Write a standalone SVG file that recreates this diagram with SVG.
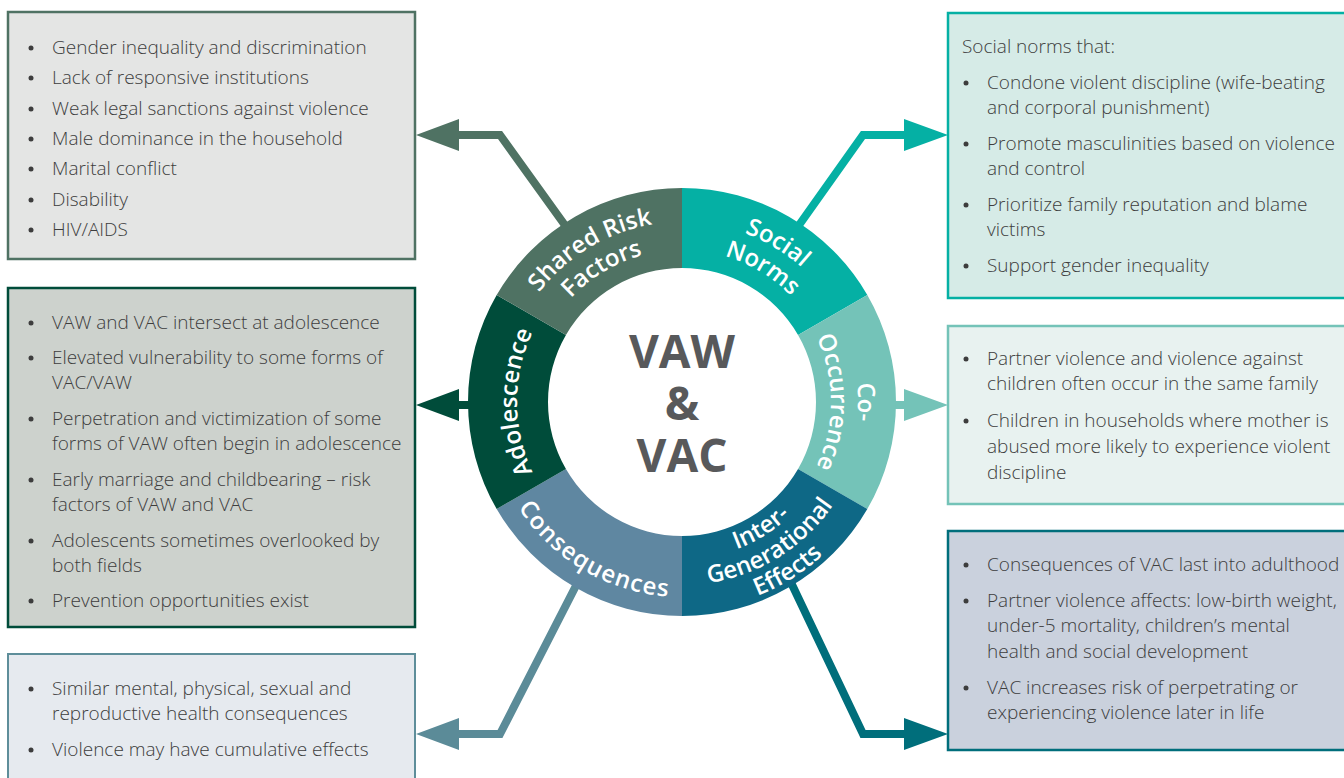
<svg xmlns="http://www.w3.org/2000/svg" xmlns:xlink="http://www.w3.org/1999/xlink" width="1344" height="778" viewBox="0 0 1344 778">
<style>
.t{font-family:"Open Sans","Liberation Sans",sans-serif;font-size:19px;fill:#3d3d3d;font-weight:300}
.lbl{font-family:"Open Sans","Liberation Sans",sans-serif;font-size:24px;fill:#ffffff;font-weight:600}
.ctr{font-family:"Open Sans","Liberation Sans",sans-serif;font-size:46px;fill:#58595b;font-weight:700}
.bul{fill:#3d3d3d}
.cn{fill:none;stroke-width:8;stroke-linejoin:miter}
</style>
<defs>
<path id="pShared" d="M502.03,405.14 A180,180 0 0 1 769.27,244.57"/>
<path id="pFactors" d="M530.02,404.65 A152,152 0 0 1 755.69,269.06"/>
<path id="pSocial" d="M594.73,244.57 A180,180 0 0 1 861.97,405.14"/>
<path id="pNorms" d="M608.31,269.06 A152,152 0 0 1 833.98,404.65"/>
<path id="pCo" d="M770,249.58 A176,176 0 0 1 770,554.42"/>
<path id="pOcc" d="M756.5,272.96 A149,149 0 0 1 756.5,531.04"/>
<path id="pAdol" d="M599.5,544.89 A165,165 0 0 1 599.5,259.11"/>
<path id="pCons" d="M487.01,400.30 A195,195 0 0 0 778.02,571.72"/>
<path id="pInter" d="M608.29,540.62 A157,157 0 0 0 838.90,396.52"/>
<path id="pGen" d="M596.09,563.58 A183,183 0 0 0 864.89,395.61"/>
<path id="pEff" d="M584.35,585.65 A208,208 0 0 0 889.87,394.74"/>
</defs>

<g id="box-shared-risk">
<rect x="8" y="12" width="407" height="247" fill="#e4e5e4" stroke="#4f7263" stroke-width="2.5"/>
<g class="bul"><circle cx="31" cy="48" r="2.5"/><circle cx="31" cy="78" r="2.5"/><circle cx="31" cy="109" r="2.5"/><circle cx="31" cy="139" r="2.5"/><circle cx="31" cy="169" r="2.5"/><circle cx="31" cy="200" r="2.5"/><circle cx="31" cy="230" r="2.5"/></g>
<text class="t" x="52" y="54">Gender inequality and discrimination</text>
<text class="t" x="52" y="84">Lack of responsive institutions</text>
<text class="t" x="52" y="115">Weak legal sanctions against violence</text>
<text class="t" x="52" y="145">Male dominance in the household</text>
<text class="t" x="52" y="175">Marital conflict</text>
<text class="t" x="52" y="206">Disability</text>
<text class="t" x="52" y="236">HIV/AIDS</text>
</g>

<g id="box-adolescence">
<rect x="8" y="288" width="407" height="339" fill="#cdd2cd" stroke="#004c3a" stroke-width="2.5"/>
<g class="bul"><circle cx="31" cy="323" r="2.5"/><circle cx="31" cy="358" r="2.5"/><circle cx="31" cy="419" r="2.5"/><circle cx="31" cy="480" r="2.5"/><circle cx="31" cy="541" r="2.5"/><circle cx="31" cy="601" r="2.5"/></g>
<text class="t" x="52" y="329">VAW and VAC intersect at adolescence</text>
<text class="t" x="52" y="364">Elevated vulnerability to some forms of</text>
<text class="t" x="52" y="389">VAC/VAW</text>
<text class="t" x="52" y="425">Perpetration and victimization of some</text>
<text class="t" x="52" y="450">forms of VAW often begin in adolescence</text>
<text class="t" x="52" y="486">Early marriage and childbearing – risk</text>
<text class="t" x="52" y="511">factors of VAW and VAC</text>
<text class="t" x="52" y="547">Adolescents sometimes overlooked by</text>
<text class="t" x="52" y="572">both fields</text>
<text class="t" x="52" y="607">Prevention opportunities exist</text>
</g>

<g id="box-consequences">
<rect x="8" y="654" width="407" height="140" fill="#e6eaef" stroke="#5e8e9a" stroke-width="2"/>
<g class="bul"><circle cx="31" cy="689" r="2.5"/><circle cx="31" cy="750" r="2.5"/></g>
<text class="t" x="52" y="695">Similar mental, physical, sexual and</text>
<text class="t" x="52" y="720">reproductive health consequences</text>
<text class="t" x="52" y="756">Violence may have cumulative effects</text>
</g>

<g id="box-social-norms">
<rect x="948" y="13" width="402" height="285" fill="#d6ebe7" stroke="#05b0a4" stroke-width="2.5"/>
<text class="t" x="962" y="53">Social norms that:</text>
<g class="bul"><circle cx="966" cy="83" r="2.5"/><circle cx="966" cy="144" r="2.5"/><circle cx="966" cy="205" r="2.5"/><circle cx="966" cy="266" r="2.5"/></g>
<text class="t" x="987" y="89">Condone violent discipline (wife-beating</text>
<text class="t" x="987" y="114">and corporal punishment)</text>
<text class="t" x="987" y="150">Promote masculinities based on violence</text>
<text class="t" x="987" y="175">and control</text>
<text class="t" x="987" y="211">Prioritize family reputation and blame</text>
<text class="t" x="987" y="236">victims</text>
<text class="t" x="987" y="272">Support gender inequality</text>
</g>

<g id="box-co-occurrence">
<rect x="948" y="326" width="402" height="178" fill="#e8f2f0" stroke="#74c3b8" stroke-width="2.5"/>
<g class="bul"><circle cx="966" cy="359" r="2.5"/><circle cx="966" cy="421" r="2.5"/></g>
<text class="t" x="987" y="365">Partner violence and violence against</text>
<text class="t" x="987" y="390">children often occur in the same family</text>
<text class="t" x="987" y="427">Children in households where mother is</text>
<text class="t" x="987" y="453">abused more likely to experience violent</text>
<text class="t" x="987" y="479">discipline</text>
</g>

<g id="box-intergenerational">
<rect x="948" y="531" width="402" height="219" fill="#cad1dd" stroke="#006e7b" stroke-width="2.5"/>
<g class="bul"><circle cx="966" cy="565" r="2.5"/><circle cx="966" cy="601" r="2.5"/><circle cx="966" cy="688" r="2.5"/></g>
<text class="t" x="987" y="571">Consequences of VAC last into adulthood</text>
<text class="t" x="987" y="607">Partner violence affects: low-birth weight,</text>
<text class="t" x="987" y="632">under-5 mortality, children’s mental</text>
<text class="t" x="987" y="658">health and social development</text>
<text class="t" x="987" y="694">VAC increases risk of perpetrating or</text>
<text class="t" x="987" y="719">experiencing violence later in life</text>
</g>

<g id="connectors">
<polyline class="cn" stroke="#4f7263" points="572,235 500,135 459,135"/>
<polygon fill="#4f7263" points="416,135 459,119 459,151"/>
<polyline class="cn" stroke="#05b0a4" points="792,235 863,135 904,135"/>
<polygon fill="#05b0a4" points="948,135 904,119 904,151"/>
<polyline class="cn" stroke="#004c3a" points="475,405 459,405"/>
<polygon fill="#004c3a" points="416,405 459,389 459,421"/>
<polyline class="cn" stroke="#74c3b8" points="889,405 904,405"/>
<polygon fill="#74c3b8" points="948,405 904,389 904,421"/>
<polyline class="cn" stroke="#5b8b98" points="583,572 500,734 459,734"/>
<polygon fill="#5b8b98" points="416,734 459,718 459,750"/>
<polyline class="cn" stroke="#006e7b" points="786,572 863,734 904,734"/>
<polygon fill="#006e7b" points="948,734 904,718 904,750"/>
</g>

<g id="seg-social-norms">
<path fill="#05b0a4" d="M682,188 A214,214 0 0 1 867.33,295 L798.05,335 A134,134 0 0 0 682,268 Z"/>
<text class="lbl"><textPath xlink:href="#pSocial" href="#pSocial" startOffset="50%" text-anchor="middle">Social</textPath></text>
<text class="lbl"><textPath xlink:href="#pNorms" href="#pNorms" startOffset="50%" text-anchor="middle">Norms</textPath></text>
</g>
<g id="seg-co-occurrence">
<path fill="#74c3b8" d="M867.33,295 A214,214 0 0 1 867.33,509 L798.05,469 A134,134 0 0 0 798.05,335 Z"/>
<text class="lbl"><textPath xlink:href="#pCo" href="#pCo" startOffset="50%" text-anchor="middle">Co-</textPath></text>
<text class="lbl"><textPath xlink:href="#pOcc" href="#pOcc" startOffset="50%" text-anchor="middle">Occurrence</textPath></text>
</g>
<g id="seg-intergenerational">
<path fill="#0e6886" d="M867.33,509 A214,214 0 0 1 682,616 L682,536 A134,134 0 0 0 798.05,469 Z"/>
<text class="lbl"><textPath xlink:href="#pInter" href="#pInter" startOffset="50%" text-anchor="middle">Inter-</textPath></text>
<text class="lbl"><textPath xlink:href="#pGen" href="#pGen" startOffset="50%" text-anchor="middle">Generational</textPath></text>
<text class="lbl"><textPath xlink:href="#pEff" href="#pEff" startOffset="50%" text-anchor="middle">Effects</textPath></text>
</g>
<g id="seg-consequences">
<path fill="#5f87a1" d="M682,616 A214,214 0 0 1 496.67,509 L565.95,469 A134,134 0 0 0 682,536 Z"/>
<text class="lbl" letter-spacing="1.2"><textPath xlink:href="#pCons" href="#pCons" startOffset="50%" text-anchor="middle">Consequences</textPath></text>
</g>
<g id="seg-adolescence">
<path fill="#004c3a" d="M496.67,509 A214,214 0 0 1 496.67,295 L565.95,335 A134,134 0 0 0 565.95,469 Z"/>
<text class="lbl"><textPath xlink:href="#pAdol" href="#pAdol" startOffset="50%" text-anchor="middle">Adolescence</textPath></text>
</g>
<g id="seg-shared-risk">
<path fill="#4f7263" d="M496.67,295 A214,214 0 0 1 682,188 L682,268 A134,134 0 0 0 565.95,335 Z"/>
<text class="lbl"><textPath xlink:href="#pShared" href="#pShared" startOffset="50%" text-anchor="middle">Shared Risk</textPath></text>
<text class="lbl"><textPath xlink:href="#pFactors" href="#pFactors" startOffset="50%" text-anchor="middle">Factors</textPath></text>
</g>

<g id="center">
<text class="ctr" x="682" y="368" text-anchor="middle">VAW</text>
<text class="ctr" x="682" y="420" text-anchor="middle">&amp;</text>
<text class="ctr" x="682" y="472" text-anchor="middle">VAC</text>
</g>
</svg>
